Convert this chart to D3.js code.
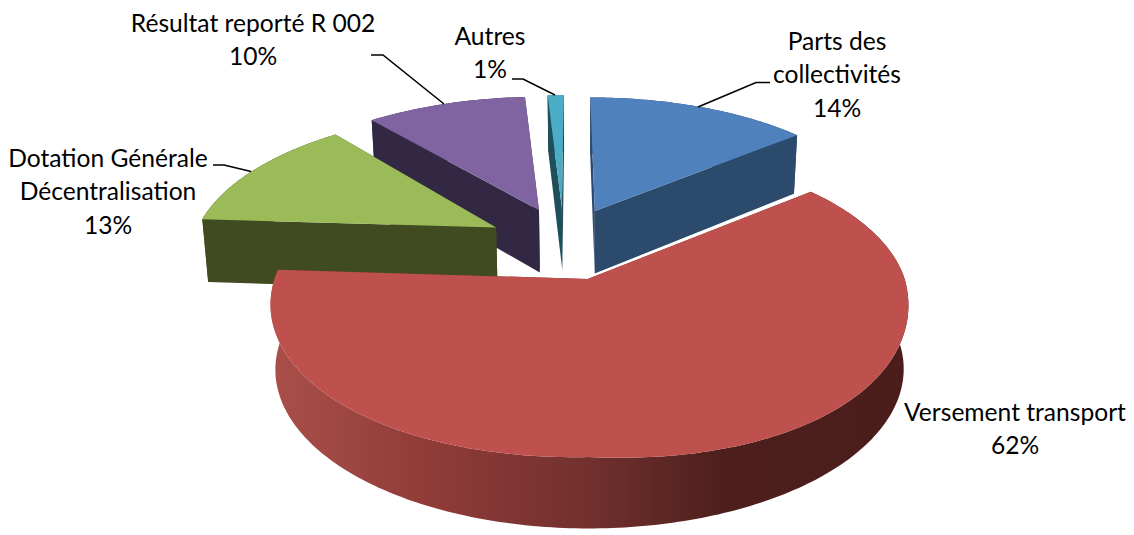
<!DOCTYPE html>
<html>
<head>
<meta charset="utf-8">
<script src="https://cdn.jsdelivr.net/npm/d3@7/dist/d3.min.js"></script>
<style>
html,body{margin:0;padding:0;background:#fff;}
svg{display:block;}
text{font-family:Lato,"Open Sans",sans-serif;fill:#000;}
</style>
</head>
<body>
<script>
// Data
const categories = ["Parts des collectivités","Versement transport","Dotation Générale Décentralisation","Résultat reporté R 002","Autres"];
const values = [14,62,13,10,1];
const topColors = ["#4F81BD","#BE504D","#9BBB59","#8064A2","#4BACC6"];
const wallColors = ["#2C4A6B","#7a2f2d","#404B21","#332844","#1F4F5C"];
const drawOrder = [4,3,0,2,1];

// Label layout: lines, centre, first baseline, leader polyline
const labelLines = [["Parts des","collectivités","14%"],["Versement transport","62%"],["Dotation Générale","Décentralisation","13%"],["Résultat reporté R 002","10%"],["Autres","1%"]];
const labelCentres = [[837,50],[1015,421],[108,167],[253,32],[490,45]];
const labelLineHeight = 33.4;
const labelSize = 24.6;
const leaders = [[[698,107],[756,82.5],[770,82.5]],null,[[213,165],[224,165],[251,171.5]],[[371,55],[383,55],[444,104]],[[512,79],[523,79],[555,95]]];

// Projection constants (perspective view of the pie)
const W=1134,H=535;
const vx=590, vy=245, R=304, B=140, k=0.15;
const explode=0.262, x0=-0.095, y0=-0.015;
const sliceNudgeX=[-4,4,4,0,0], sliceNudgeY=[0,0,1,0,0];
const apexNudgeX=[4,-2,0,5,2];
const frontBulgeRight=9, frontBulgeLeft=4;
const wallBase=64, wallSlope=6, wallShrink=0.985;

const svg=d3.select("body").append("svg").attr("width",W).attr("height",H);
const defs=svg.append("defs");
const grad=defs.append("linearGradient").attr("id","redWall").attr("gradientUnits","userSpaceOnUse")
  .attr("x1",270).attr("x2",910).attr("y1",0).attr("y2",0);
[[0,"#A94F4A"],[0.25,"#8F3B38"],[0.5,"#70302D"],[0.7,"#4E1F1C"],[1,"#4A1D1B"]].forEach(([o,c])=>grad.append("stop").attr("offset",o).attr("stop-color",c));

function project(X,Y){const s=1/(1-k*Y);return [vx+X*R*s,vy+Y*B*s];}
function lower(X,Y){const p=project(X,Y);return [vx+(p[0]-vx)*wallShrink,p[1]+wallBase+wallSlope*Y];}
// The front rim of the reference is slightly fuller than a pure perspective circle.
function bulge(t){
  if(Math.cos(t)>=0) return 0;
  return Math.abs(Math.sin(2*t))*(Math.sin(t)>0?frontBulgeRight:frontBulgeLeft);
}

const pie=d3.pie().sort(null).value(d=>d);
const arcs=pie(values);
const line=d3.line();

drawOrder.forEach(i=>{
  const a=arcs[i], mid=(a.startAngle+a.endAngle)/2;
  const ax=x0+explode*Math.sin(mid), ay=y0-explode*Math.cos(mid);
  const n=Math.max(8,Math.ceil((a.endAngle-a.startAngle)*60));
  const ang=d3.range(n+1).map(j=>a.startAngle+(a.endAngle-a.startAngle)*j/n);
  const world=ang.map(t=>[ax+Math.sin(t),ay-Math.cos(t)]);
  const top=world.map((p,j)=>{const q=project(p[0],p[1]);return [q[0],q[1]+bulge(ang[j])];});
  const bot=world.map(p=>lower(p[0],p[1]));
  const apexT=project(ax,ay), apexB=lower(ax,ay);
  apexT[0]+=apexNudgeX[i]; apexB[0]+=apexNudgeX[i];
  const g=svg.append("g").attr("transform",`translate(${sliceNudgeX[i]},${sliceNudgeY[i]})`);
  const wall=i===1?"url(#redWall)":wallColors[i];
  g.append("path").attr("d",line([apexT,top[0],bot[0],apexB])+"Z").attr("fill",wallColors[i]);
  g.append("path").attr("d",line([apexT,top[n],bot[n],apexB])+"Z").attr("fill",wallColors[i]);
  g.append("path").attr("d",line(top.concat(bot.slice().reverse()))+"Z").attr("fill",wall);
  g.append("path").attr("d",line([apexT].concat(top))+"Z").attr("fill",topColors[i]);
});

// Leader lines
leaders.forEach(l=>{ if(l) svg.append("path").attr("d",line(l)).attr("fill","none").attr("stroke","#000").attr("stroke-width",1.6); });

// Labels
labelLines.forEach((lines,i)=>{
  lines.forEach((t,j)=>{
    svg.append("text").attr("x",labelCentres[i][0]).attr("y",labelCentres[i][1]+j*labelLineHeight)
      .attr("text-anchor","middle").attr("font-size",labelSize).text(t);
  });
});
</script>
</body>
</html>
